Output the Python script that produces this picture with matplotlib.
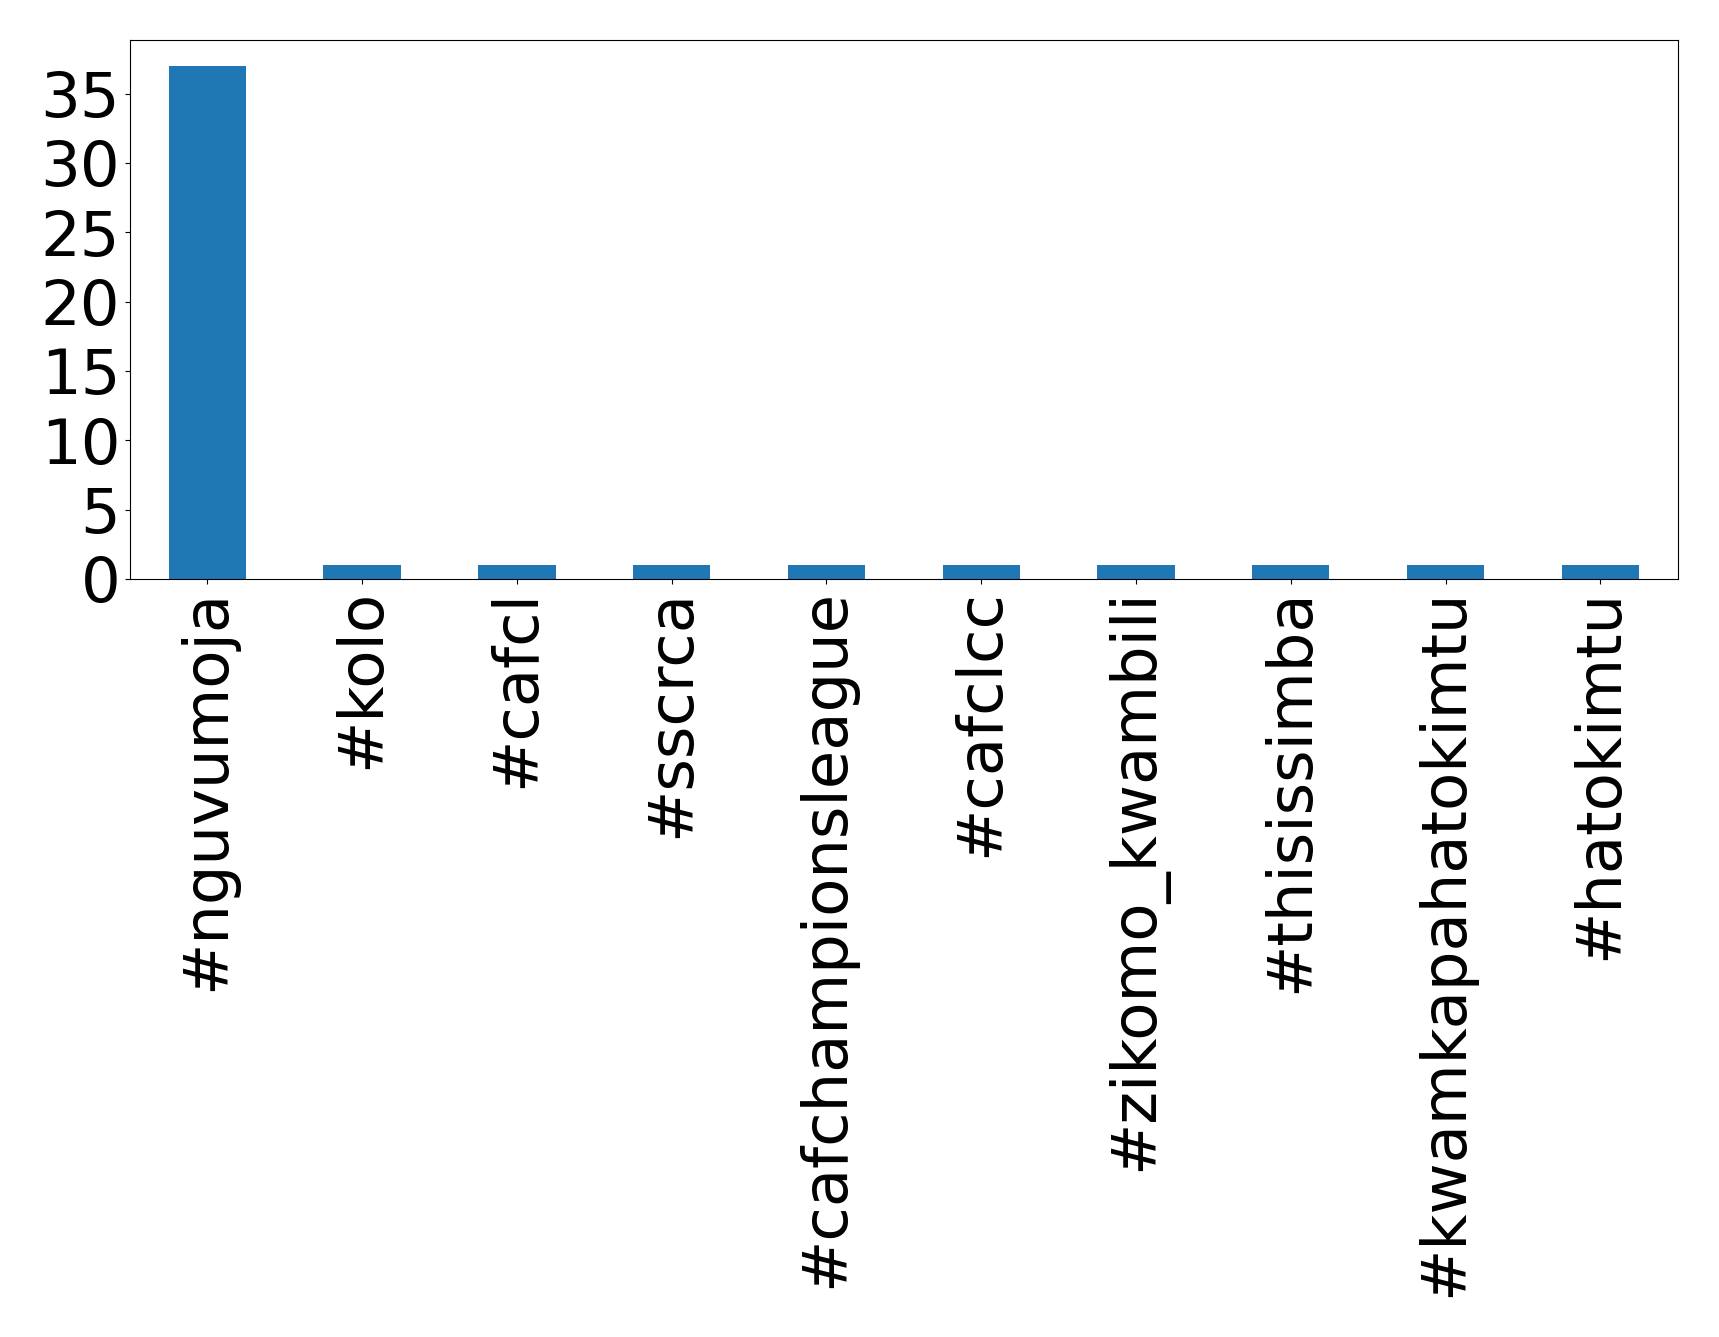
import matplotlib
matplotlib.use("Agg")
import matplotlib.pyplot as plt
import numpy as np

# hashtag counts
hashtags = ["#nguvumoja", "#kolo", "#cafcl", "#sscrca", "#cafchampionsleague",
            "#cafclcc", "#zikomo_kwambili", "#thisissimba", "#kwamkapahatokimtu",
            "#hatokimtu"]
counts = [37, 1, 1, 1, 1, 1, 1, 1, 1, 1]

fig, ax = plt.subplots(figsize=(17.19, 13.37), dpi=100)
x = np.arange(len(hashtags))
ax.bar(x, counts, width=0.5, color="#1f77b4")
ax.set_xlim(-0.5, len(hashtags) - 0.5)
ax.set_xticks(x)
ax.set_xticklabels(hashtags, rotation=90, fontsize=45)
ax.tick_params(axis="y", labelsize=45)
ax.set_yticks(range(0, 40, 5))

plt.subplots_adjust(left=0.0756, right=0.976, top=0.970, bottom=0.567)
plt.savefig("out.png", dpi=100)
